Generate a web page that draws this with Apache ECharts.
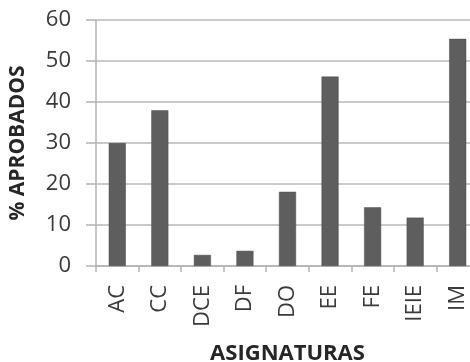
<!DOCTYPE html>
<html>
<head>
<meta charset="utf-8">
<script src="https://cdn.jsdelivr.net/npm/echarts@6/dist/echarts.min.js"></script>
<style>
  html, body { margin: 0; padding: 0; background: #fff; }
  #chart { width: 470px; height: 362px; }
</style>
</head>
<body>
<div id="chart"></div>
<script>
// Subjects and pass rates (%)
const categories = ['AC', 'CC', 'DCE', 'DF', 'DO', 'EE', 'FE', 'IEIE', 'IM'];
const passRates = [30, 38, 2.7, 3.7, 18.1, 46.2, 14.3, 11.8, 55.4];
const yTicks = [0, 10, 20, 30, 40, 50, 60];

const chart = echarts.init(document.getElementById('chart'));
const font = 'Open Sans';
chart.setOption({
  animation: false,
  grid: { left: 96, top: 20, width: 383, height: 246, containLabel: false, outerBoundsMode: 'none' },
  xAxis: {
    type: 'category',
    data: categories,
    name: 'ASIGNATURAS',
    nameLocation: 'middle',
    nameGap: 77,
    nameTextStyle: { fontFamily: font, fontWeight: 'bold', fontSize: 22, color: '#262626' },
    axisLine: { lineStyle: { color: '#b3b3b3', width: 1.5 } },
    axisTick: { show: true, length: 6, lineStyle: { color: '#b3b3b3', width: 1.5 } },
    axisLabel: { rotate: 90, margin: 19, fontFamily: font, fontSize: 22, color: '#3a3a3a' }
  },
  yAxis: {
    type: 'value',
    min: yTicks[0],
    max: yTicks[yTicks.length - 1],
    interval: 10,
    name: '% APROBADOS',
    nameLocation: 'middle',
    nameGap: 67,
    nameTextStyle: { fontFamily: font, fontWeight: 'bold', fontSize: 21, color: '#262626' },
    axisLine: { show: true, lineStyle: { color: '#b3b3b3', width: 1.5 } },
    axisTick: { show: true, length: 10, lineStyle: { color: '#b3b3b3', width: 1.5 } },
    splitLine: { lineStyle: { color: '#b8b8b8', width: 1.5 } },
    axisLabel: { margin: 25, fontFamily: font, fontSize: 22, color: '#3a3a3a' }
  },
  series: [{
    type: 'bar',
    data: passRates,
    barWidth: '40%',
    itemStyle: { color: '#5e5e5e', borderColor: '#4a4a4a', borderWidth: 0.5 }
  }]
});
</script>
</body>
</html>
